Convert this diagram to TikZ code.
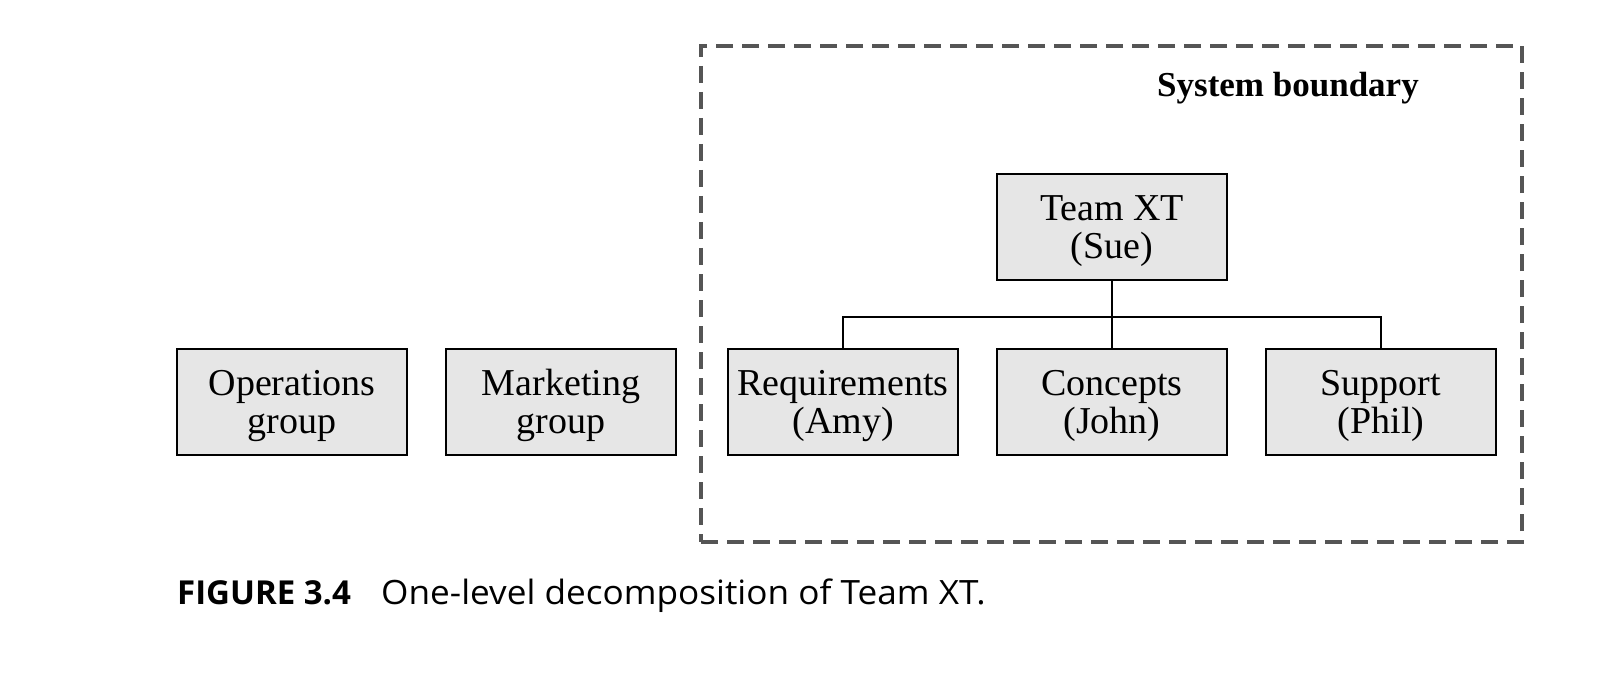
\documentclass[tikz,border=0pt]{standalone}
\usepackage{fontspec}
\newfontfamily\boxfont{Liberation Serif}
\newfontfamily\capfont[FakeStretch=1.05]{Open Sans}
\newfontfamily\capboldfont{Open Sans}
\definecolor{boxgray}{HTML}{E6E6E6}
\definecolor{dashgray}{HTML}{555555}
\newcommand\twolines[2]{\rule{0pt}{34pt}#1\\#2\rule[-8pt]{0pt}{8pt}}
\begin{document}
\begin{tikzpicture}[x=1pt,y=-1pt,
  unit/.style={draw=black, line width=2.2pt, fill=boxgray, minimum width=230pt, minimum height=106pt,
    inner sep=0pt, align=center, font=\boxfont\fontsize{38}{38}\selectfont},
  link/.style={draw=black, line width=1.8pt},
  boundary/.style={draw=dashgray, line width=3.5pt, dash pattern=on 17pt off 9pt, minimum width=821pt, minimum height=496pt, inner sep=0pt}]
\useasboundingbox (0,0) rectangle (1600,679);
\node[boundary] (sys) at (1111.5,294) {};
\node[anchor=base, font=\boxfont\bfseries\fontsize{35}{40}\selectfont] (sysl) at (1288,97) {System boundary};
\node[unit] (team) at (1112,227) {\twolines{Team XT}{(Sue)}};
\node[unit] (req) at (843,402) {\twolines{Requirements}{(Amy)}};
\node[unit] (con) at (1112,402) {\twolines{Concepts}{(John)}};
\node[unit] (sup) at (1381,402) {\twolines{Support}{(Phil)}};
\node[unit] (ops) at (292,402) {\twolines{Operations}{group}};
\node[unit] (mkt) at (561,402) {\twolines{Marketing}{group}};
\draw[link] (team.south) -- (con.north);
\draw[link] (req.north) -- ++(0,-31) -| (sup.north);
\node[anchor=base west, inner sep=0pt, font=\capboldfont\bfseries\fontsize{33}{36}\selectfont] (fig) at (177,604) {FIGURE 3.4};
\node[anchor=base west, inner sep=0pt, font=\capfont\fontsize{33.5}{36}\selectfont] (cap) at (381,604) {One-level decomposition of Team XT.};
\end{tikzpicture}
\end{document}
